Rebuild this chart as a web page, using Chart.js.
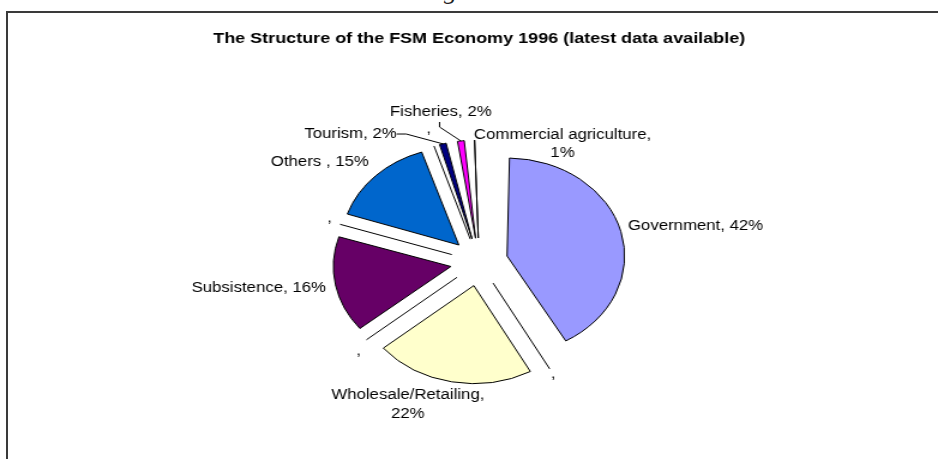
<!DOCTYPE html>
<html>
<head>
<meta charset="utf-8">
<script src="https://cdn.jsdelivr.net/npm/chart.js@4.4.0/dist/chart.umd.min.js"></script>
<style>
  html, body { margin: 0; padding: 0; background: #fff; overflow: hidden; }
  #page { position: relative; width: 938px; height: 459px; overflow: hidden; }
  #frame { position: absolute; left: 6px; top: 11px; right: 0; bottom: 0;
           border-top: 2px solid #3a3a3a; border-left: 2px solid #3a3a3a; }
  #cut { position: absolute; left: 444px; top: -22px; font: italic 26px/26px "Liberation Serif", serif; color: #222; }
  #pie { position: absolute; left: 0; top: 0; }
</style>
</head>
<body>
<div id="page">
  <div id="cut">g</div>
  <div id="frame"></div>
  <!-- the original is stretched sideways, so the canvas is too -->
  <canvas id="pie" width="782" height="459" style="width:938px;height:459px"></canvas>
</div>
<script>
// --- data ---
const categories = ["Government", "", "Wholesale/Retailing", "", "Subsistence", "", "Others ", "", "Tourism", "Fisheries", "Commercial agriculture"];
const shares = [42, 0, 22, 0, 16, 0, 15, 0, 2, 2, 1];

// --- styles ---
const sliceColors = ["#9999FF", "#FFFFFF", "#FFFFCC", "#FFFFFF", "#660066", "#FFFFFF", "#0066CC", "#FFFFFF", "#000080", "#FF00FF", "#FFFF00"];
const R = 98;          // pie radius
const EXPLODE = 96;    // chart.js moves a slice by offset / 4

// label placement (nudge from the anchor just outside each slice)
const labelAlign = ["left", "center", "center", "center", "right", "center", "right", "center", "right", "center", "center"];
const labelNudge = [[0, -4], [0, 0], [-35.5, 16.8], [-2, 8], [-2, 2], [-3, -4], [-1.5, -9.5], [-2.5, -11], [-37, -4], [-16, -23], [73.5, 10]];
const labelWrap = [false, false, true, false, false, false, false, false, false, false, true];
const leaderKind = { 8: "side", 9: "below" };

const FONT = '"Liberation Sans", Arial, sans-serif';

function labelLines(i) {
  const pct = shares[i] ? shares[i] + "%" : "";
  const first = categories[i] + ",";
  return labelWrap[i] ? [first, pct] : [(first + " " + pct).trim()];
}

// keep every slice the same radius: chart.js grows offset slices a bit
const sameRadius = {
  id: "sameRadius",
  beforeDatasetsDraw(chart) {
    chart.getDatasetMeta(0).data.forEach(arc => {
      const ex = (arc.options.offset || 0) / 4;
      const fix = 1 - Math.sin(Math.min(Math.PI, arc.circumference || 0));
      arc.outerRadius = R - ex * fix;
    });
  }
};

// zero slices show as lines, then the outside labels
const pieLabels = {
  id: "pieLabels",
  afterDatasetsDraw(chart) {
    const ctx = chart.ctx;
    const arcs = chart.getDatasetMeta(0).data;
    ctx.save();
    ctx.strokeStyle = "#000";
    ctx.lineWidth = 1;
    arcs.forEach((arc, i) => {
      const ex = (arc.options.offset || 0) / 4;
      const a = (arc.startAngle + arc.endAngle) / 2;
      const cx = arc.x + Math.cos(a) * ex;
      const cy = arc.y + Math.sin(a) * ex;
      if (shares[i] === 0) {
        ctx.beginPath();
        ctx.moveTo(cx, cy);
        ctx.lineTo(cx + Math.cos(a) * R, cy + Math.sin(a) * R);
        ctx.stroke();
      }
      const ax = cx + Math.cos(a) * (R + 6) + labelNudge[i][0];
      const ay = cy + Math.sin(a) * (R + 6) + labelNudge[i][1];
      const lines = labelLines(i);
      const lh = 18.5;
      ctx.font = "14px " + FONT;
      ctx.fillStyle = "#000";
      ctx.textAlign = labelAlign[i];
      ctx.textBaseline = "middle";
      lines.forEach((t, k) => ctx.fillText(t, ax, ay + (k - (lines.length - 1) / 2) * lh));

      const kind = leaderKind[i];
      if (kind) {
        const px = cx + Math.cos(a) * R;
        const py = cy + Math.sin(a) * R;
        ctx.beginPath();
        if (kind === "side") {
          ctx.moveTo(ax, ay);
          ctx.lineTo(ax + 8, ay);
        } else {
          ctx.moveTo(ax - 1, ay + 10);
          ctx.lineTo(ax - 1, ay + 15);
        }
        ctx.lineTo(px, py);
        ctx.stroke();
      }
    });
    ctx.restore();
  }
};

new Chart(document.getElementById("pie"), {
  type: "pie",
  data: {
    labels: categories,
    datasets: [{
      data: shares,
      backgroundColor: sliceColors,
      borderColor: "#000",
      borderWidth: 1,
      borderJoinStyle: "miter",
      offset: EXPLODE,
      radius: R
    }]
  },
  options: {
    responsive: false,
    animation: false,
    events: [],
    layout: { padding: { left: 17, right: 0, top: 0, bottom: 13 } },
    plugins: {
      legend: { display: false },
      tooltip: { enabled: false },
      title: {
        display: true,
        text: "The Structure of the FSM Economy 1996 (latest data available)",
        color: "#000",
        font: { family: FONT, size: 15, weight: "bold" },
        padding: { top: 30, bottom: 30 }
      }
    }
  },
  plugins: [sameRadius, pieLabels]
});
</script>
</body>
</html>
